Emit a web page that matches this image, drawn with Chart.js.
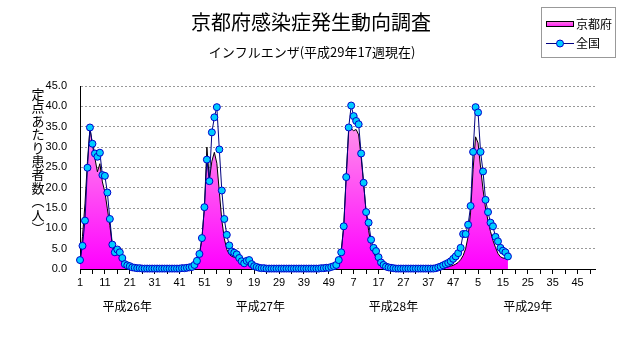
<!DOCTYPE html>
<html>
<head>
<meta charset="utf-8">
<script src="https://cdn.jsdelivr.net/npm/chart.js@4.4.0/dist/chart.umd.min.js"></script>
<style>
html, body { margin: 0; padding: 0; background: #fff; }
canvas { display: block; }
</style>
</head>
<body>
<canvas id="flu-chart" width="631" height="347"></canvas>
<script>
var titleText = '京都府感染症発生動向調査';
var subtitleText = 'インフルエンザ(平成29年17週現在)';
var yTitle = ['定', '点', 'あ', 'た', 'り', '患', '者', '数', '︵', '人', '︶'];
var yearLabels = ['平成26年', '平成27年', '平成28年', '平成29年'];
var yearLabelAt = [19, 72.5, 126, 180];
var seriesNames = ['京都府', '全国'];
var weeksPerYear = 52;
var yearCount = 4;

// 京都府 (per sentinel)
var kyoto26 = [1.2, 8.0, 16.0, 26.5, 34.5, 30.5, 27.2, 23.9, 25.9, 21.4,
               18.9, 14.8, 10.7, 5.8, 3.3, 4.1, 3.3, 1.6, 1.0, 0.6,
               0.4, 0.3, 0.2, 0.1, 0.1, 0.1, 0.1, 0.0, 0.0, 0.0,
               0.0, 0.0, 0.0, 0.0, 0.0, 0.0, 0.1, 0.1, 0.1, 0.1,
               0.1, 0.1, 0.2, 0.2, 0.3, 0.5, 0.8, 1.5, 3.5, 7.4,
               15.0, 30.0];
var kyoto27 = [22.0, 26.5, 28.7, 26.0, 19.0, 12.0, 7.5, 4.8, 3.6, 3.1,
               2.9, 2.6, 2.2, 1.8, 1.6, 1.3, 1.0, 0.7, 0.5, 0.4,
               0.3, 0.2, 0.1, 0.1, 0.1, 0.0, 0.0, 0.0, 0.0, 0.0,
               0.0, 0.0, 0.0, 0.0, 0.0, 0.0, 0.0, 0.0, 0.0, 0.0,
               0.0, 0.1, 0.1, 0.1, 0.1, 0.1, 0.2, 0.2, 0.3, 0.4,
               0.6, 1.0];
var kyoto28 = [2.0, 4.5, 10.5, 23.0, 34.0, 34.5, 34.0, 34.3, 33.0, 27.5,
               21.0, 14.0, 9.5, 6.0, 4.0, 2.8, 1.6, 0.9, 0.5, 0.3,
               0.2, 0.1, 0.1, 0.0, 0.0, 0.0, 0.0, 0.0, 0.0, 0.0,
               0.0, 0.0, 0.0, 0.0, 0.0, 0.0, 0.0, 0.0, 0.1, 0.1,
               0.2, 0.2, 0.3, 0.4, 0.5, 0.7, 0.9, 1.2, 1.6, 2.3,
               3.3, 5.0];
var kyoto29 = [8.0, 14.0, 24.5, 32.5, 31.0, 25.0, 19.5, 15.0, 11.8, 9.2,
               7.0, 5.3, 3.8, 3.0, 2.7, 2.6, 2.5];

// 全国 (per sentinel)
var national26 = [2.2, 5.7, 11.9, 24.9, 34.8, 30.8, 28.4, 27.6, 28.6, 23.1,
                  22.9, 18.8, 12.3, 6.0, 4.1, 4.8, 4.1, 2.7, 1.2, 0.9,
                  0.7, 0.4, 0.3, 0.2, 0.2, 0.1, 0.1, 0.1, 0.1, 0.1,
                  0.1, 0.1, 0.1, 0.1, 0.1, 0.1, 0.1, 0.1, 0.1, 0.1,
                  0.1, 0.2, 0.2, 0.3, 0.4, 0.5, 1.0, 2.0, 3.7, 7.6,
                  15.2, 26.9];
var national27 = [21.6, 33.6, 37.3, 39.8, 29.4, 19.3, 12.3, 8.4, 5.8, 4.3,
                  4.0, 3.6, 2.7, 1.9, 1.4, 2.0, 2.2, 1.2, 0.7, 0.5,
                  0.3, 0.2, 0.2, 0.1, 0.1, 0.1, 0.1, 0.1, 0.1, 0.1,
                  0.1, 0.1, 0.1, 0.1, 0.1, 0.1, 0.1, 0.1, 0.1, 0.1,
                  0.1, 0.1, 0.1, 0.1, 0.1, 0.2, 0.2, 0.3, 0.3, 0.5,
                  0.7, 1.0];
var national28 = [2.2, 4.1, 10.5, 22.6, 34.8, 40.2, 37.6, 36.4, 35.6, 28.4,
                  21.2, 14.0, 11.4, 7.2, 5.2, 4.4, 2.9, 1.6, 1.0, 0.6,
                  0.4, 0.3, 0.2, 0.1, 0.1, 0.1, 0.1, 0.1, 0.1, 0.1,
                  0.1, 0.1, 0.1, 0.1, 0.1, 0.1, 0.1, 0.1, 0.1, 0.2,
                  0.4, 0.6, 0.9, 1.2, 1.5, 1.9, 2.5, 3.1, 3.9, 5.2,
                  8.6, 8.6];
var national29 = [10.9, 15.5, 28.8, 39.8, 38.5, 28.8, 24.0, 17.0, 14.0, 11.4,
                  10.5, 7.9, 6.8, 5.2, 4.5, 4.1, 3.1];

var weekLabels = [];
for (var y = 0; y < yearCount; y++) {
    for (var w = 1; w <= weeksPerYear; w++) {
        weekLabels.push(String(w));
    }
}

function padYear(arr) {
    var out = arr.slice();
    while (out.length < weeksPerYear) out.push(null);
    return out;
}

var kyotoData = kyoto26.concat(kyoto27, kyoto28, padYear(kyoto29));
var nationalData = national26.concat(national27, national28, padYear(national29));

var jpFont = '"Noto Sans CJK JP", "Noto Sans", sans-serif';

var annotatePlugin = {
    id: 'annotate',
    afterDraw: function(chart) {
        var ctx = chart.ctx;
        var xs = chart.scales.x;
        ctx.save();
        ctx.fillStyle = '#000';
        ctx.textAlign = 'center';
        ctx.textBaseline = 'middle';

        ctx.font = '20px ' + jpFont;
        ctx.fillText(titleText, 311, 22);
        ctx.font = '13px ' + jpFont;
        ctx.fillText(subtitleText, 312, 52);

        for (var i = 0; i < yTitle.length; i++) {
            ctx.fillText(yTitle[i], 38, 94 + i * 13.4);
        }

        ctx.font = '12px ' + jpFont;
        for (var k = 0; k < yearLabels.length; k++) {
            ctx.fillText(yearLabels[k], xs.getPixelForValue(yearLabelAt[k]), 306);
        }

        // legend box
        ctx.strokeStyle = '#999';
        ctx.lineWidth = 1;
        ctx.strokeRect(541.5, 7.5, 74, 50);

        var g = ctx.createLinearGradient(0, 20, 0, 28);
        g.addColorStop(0, '#ff99dd');
        g.addColorStop(1, '#ff00ff');
        ctx.fillStyle = g;
        ctx.fillRect(546, 21, 28, 6);
        ctx.strokeStyle = '#000';
        ctx.strokeRect(546.5, 21.5, 27, 5);

        ctx.strokeStyle = '#000080';
        ctx.beginPath();
        ctx.moveTo(546, 43.5);
        ctx.lineTo(574, 43.5);
        ctx.stroke();
        ctx.beginPath();
        ctx.arc(560, 43.5, 3.5, 0, Math.PI * 2);
        ctx.fillStyle = '#00ccff';
        ctx.fill();
        ctx.strokeStyle = '#0000cc';
        ctx.stroke();

        ctx.fillStyle = '#000';
        ctx.textAlign = 'left';
        ctx.font = '12px ' + jpFont;
        ctx.fillText(seriesNames[0], 576, 24);
        ctx.fillText(seriesNames[1], 576, 43);
        ctx.restore();
    }
};

function loadFluChart() {
    var canvas = document.getElementById('flu-chart').getContext('2d');

    var chartData = {
        labels: weekLabels,
        datasets: [{
            label: seriesNames[1],
            data: nationalData,
            borderColor: '#000080',
            borderWidth: 1,
            pointRadius: 3.5,
            pointBackgroundColor: '#00ccff',
            pointBorderColor: '#0000cc',
            pointBorderWidth: 1,
            fill: false,
            tension: 0,
            clip: false,
            order: 1
        }, {
            label: seriesNames[0],
            data: kyotoData,
            borderColor: '#000',
            borderWidth: 1,
            pointRadius: 0,
            fill: 'origin',
            tension: 0,
            order: 2,
            backgroundColor: function(context) {
                var area = context.chart.chartArea;
                if (!area) return '#ff66dd';
                var g = context.chart.ctx.createLinearGradient(0, area.top, 0, area.bottom);
                g.addColorStop(0, '#ffb8e6');
                g.addColorStop(1, '#ff00ff');
                return g;
            }
        }]
    };

    var chartOptions = {
        responsive: false,
        animation: false,
        devicePixelRatio: 1,
        layout: { padding: { left: 0, right: 36, top: 86, bottom: 0 } },
        plugins: {
            legend: { display: false },
            tooltip: { enabled: false }
        },
        scales: {
            x: {
                grid: {
                    drawOnChartArea: false,
                    drawTicks: true,
                    tickLength: 5,
                    tickColor: function(ctx) {
                        return ctx.index % 5 === 0 ? '#000' : 'rgba(0,0,0,0)';
                    }
                },
                border: { color: '#000', width: 1 },
                ticks: {
                    autoSkip: false,
                    maxRotation: 0,
                    minRotation: 0,
                    padding: 2,
                    color: '#000',
                    font: { family: 'Liberation Sans', size: 11 },
                    callback: function(value, index) {
                        return index % 10 === 0 ? weekLabels[index] : '';
                    }
                },
                afterFit: function(scale) { scale.height = 78; }
            },
            y: {
                min: 0,
                max: 45,
                grid: {
                    drawTicks: false,
                    color: function(ctx) {
                        return ctx.tick && ctx.tick.value === 0 ? 'rgba(0,0,0,0)' : '#999';
                    }
                },
                border: { color: '#000', width: 1, dash: [2, 2] },
                ticks: {
                    stepSize: 5,
                    padding: 13,
                    color: '#000',
                    font: { family: 'Liberation Sans', size: 11 },
                    callback: function(value) { return value.toFixed(1); }
                },
                afterFit: function(scale) { scale.width = 80; }
            }
        }
    };

    new Chart(canvas, {
        type: 'line',
        data: chartData,
        options: chartOptions,
        plugins: [annotatePlugin]
    });
}

loadFluChart();
</script>
</body>
</html>
